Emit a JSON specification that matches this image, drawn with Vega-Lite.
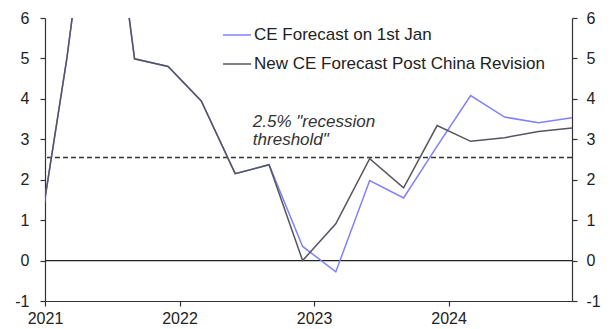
{
  "$schema": "https://vega.github.io/schema/vega-lite/v6.json",
  "width": 527,
  "height": 283,
  "autosize": {"type": "none"},
  "padding": {"left": 45, "top": 18, "right": 39, "bottom": 28},
  "background": "white",
  "config": {
    "view": {"stroke": null},
    "font": "Liberation Sans",
    "axis": {
      "labelFont": "Liberation Sans",
      "labelFontSize": 16,
      "labelColor": "#222222",
      "domainColor": "#333333",
      "tickColor": "#333333",
      "domainWidth": 1.2,
      "tickWidth": 1.2,
      "grid": false,
      "title": null
    }
  },
  "datasets": {
    "forecasts": [
      {"date": "2020-12-01", "series": "CE Forecast on 1st Jan", "value": -0.27},
      {"date": "2021-03-01", "series": "CE Forecast on 1st Jan", "value": 4.98},
      {"date": "2021-06-01", "series": "CE Forecast on 1st Jan", "value": 11.4},
      {"date": "2021-09-01", "series": "CE Forecast on 1st Jan", "value": 4.99},
      {"date": "2021-12-01", "series": "CE Forecast on 1st Jan", "value": 4.8},
      {"date": "2022-03-01", "series": "CE Forecast on 1st Jan", "value": 3.95},
      {"date": "2022-06-01", "series": "CE Forecast on 1st Jan", "value": 2.15},
      {"date": "2022-09-01", "series": "CE Forecast on 1st Jan", "value": 2.37},
      {"date": "2022-12-01", "series": "CE Forecast on 1st Jan", "value": 0.35},
      {"date": "2023-03-01", "series": "CE Forecast on 1st Jan", "value": -0.28},
      {"date": "2023-06-01", "series": "CE Forecast on 1st Jan", "value": 1.98},
      {"date": "2023-09-01", "series": "CE Forecast on 1st Jan", "value": 1.55},
      {"date": "2023-12-01", "series": "CE Forecast on 1st Jan", "value": 2.83},
      {"date": "2024-03-01", "series": "CE Forecast on 1st Jan", "value": 4.08},
      {"date": "2024-06-01", "series": "CE Forecast on 1st Jan", "value": 3.55},
      {"date": "2024-09-01", "series": "CE Forecast on 1st Jan", "value": 3.41},
      {"date": "2024-12-01", "series": "CE Forecast on 1st Jan", "value": 3.53},
      {"date": "2020-12-01", "series": "New CE Forecast Post China Revision", "value": -0.27},
      {"date": "2021-03-01", "series": "New CE Forecast Post China Revision", "value": 4.98},
      {"date": "2021-06-01", "series": "New CE Forecast Post China Revision", "value": 11.4},
      {"date": "2021-09-01", "series": "New CE Forecast Post China Revision", "value": 4.99},
      {"date": "2021-12-01", "series": "New CE Forecast Post China Revision", "value": 4.8},
      {"date": "2022-03-01", "series": "New CE Forecast Post China Revision", "value": 3.95},
      {"date": "2022-06-01", "series": "New CE Forecast Post China Revision", "value": 2.15},
      {"date": "2022-09-01", "series": "New CE Forecast Post China Revision", "value": 2.37},
      {"date": "2022-12-01", "series": "New CE Forecast Post China Revision", "value": 0.0},
      {"date": "2023-03-01", "series": "New CE Forecast Post China Revision", "value": 0.91},
      {"date": "2023-06-01", "series": "New CE Forecast Post China Revision", "value": 2.52},
      {"date": "2023-09-01", "series": "New CE Forecast Post China Revision", "value": 1.8},
      {"date": "2023-12-01", "series": "New CE Forecast Post China Revision", "value": 3.34},
      {"date": "2024-03-01", "series": "New CE Forecast Post China Revision", "value": 2.95},
      {"date": "2024-06-01", "series": "New CE Forecast Post China Revision", "value": 3.04},
      {"date": "2024-09-01", "series": "New CE Forecast Post China Revision", "value": 3.19},
      {"date": "2024-12-01", "series": "New CE Forecast Post China Revision", "value": 3.28}
    ]
  },
  "layer": [
    {
      "data": {"values": [{"value": 0}]},
      "mark": {"type": "rule", "color": "#222222", "strokeWidth": 1.2},
      "encoding": {
        "y": {
          "field": "value",
          "type": "quantitative",
          "scale": {"domain": [-1, 6], "nice": false, "zero": false},
          "axis": {
            "orient": "right",
            "values": [-1, 0, 1, 2, 3, 4, 5, 6],
            "labelExpr": "'' + datum.value",
            "tickSize": 5,
            "labelPadding": 9
          }
        }
      }
    },
    {
      "data": {"values": [{"value": 2.55}]},
      "mark": {"type": "rule", "color": "#333333", "strokeWidth": 1.3, "strokeDash": [5, 3]},
      "encoding": {
        "y": {
          "field": "value",
          "type": "quantitative",
          "scale": {"domain": [-1, 6], "nice": false, "zero": false},
          "axis": null
        }
      }
    },
    {
      "data": {"name": "forecasts"},
      "mark": {"type": "line", "strokeWidth": 1.5, "clip": true},
      "encoding": {
        "x": {
          "field": "date",
          "type": "temporal",
          "scale": {
            "type": "utc",
            "domain": [
              {"year": 2021, "month": 1, "date": 1, "utc": true},
              {"year": 2024, "month": 12, "date": 1, "utc": true}
            ]
          },
          "axis": {
            "values": [
              {"year": 2021, "month": 1, "date": 1, "utc": true},
              {"year": 2022, "month": 1, "date": 1, "utc": true},
              {"year": 2023, "month": 1, "date": 1, "utc": true},
              {"year": 2024, "month": 1, "date": 1, "utc": true}
            ],
            "format": "%Y",
            "tickSize": 5,
            "labelPadding": 4,
            "labelFlush": false,
            "labelOverlap": false
          }
        },
        "y": {
          "field": "value",
          "type": "quantitative",
          "scale": {"domain": [-1, 6], "nice": false, "zero": false},
          "axis": {
            "orient": "left",
            "values": [-1, 0, 1, 2, 3, 4, 5, 6],
            "labelExpr": "'' + datum.value",
            "tickSize": 5,
            "labelPadding": 11
          }
        },
        "color": {
          "field": "series",
          "type": "nominal",
          "scale": {
            "domain": ["CE Forecast on 1st Jan", "New CE Forecast Post China Revision"],
            "range": ["#8080ff", "#55555f"]
          },
          "legend": {
            "orient": "none",
            "legendX": 177,
            "legendY": 2,
            "title": null,
            "symbolType": "stroke",
            "symbolSize": 784,
            "symbolStrokeWidth": 1.5,
            "labelFont": "Liberation Sans",
            "labelFontSize": 17,
            "labelColor": "#222222",
            "labelOffset": 2,
            "labelLimit": 400,
            "rowPadding": 6,
            "padding": 0
          }
        }
      }
    },
    {
      "data": {"values": [{"date": "2022-07-19", "value": 3.3, "label": "2.5% \"recession\nthreshold\""}]},
      "mark": {
        "type": "text",
        "align": "left",
        "baseline": "alphabetic",
        "fontStyle": "italic",
        "fontSize": 17,
        "lineHeight": 18,
        "lineBreak": "\n",
        "color": "#333333"
      },
      "encoding": {
        "x": {"field": "date", "type": "temporal"},
        "y": {
          "field": "value",
          "type": "quantitative",
          "scale": {"domain": [-1, 6], "nice": false, "zero": false},
          "axis": null
        },
        "text": {"field": "label", "type": "nominal"}
      }
    }
  ],
  "resolve": {"scale": {"y": "independent"}, "axis": {"y": "independent"}}
}
